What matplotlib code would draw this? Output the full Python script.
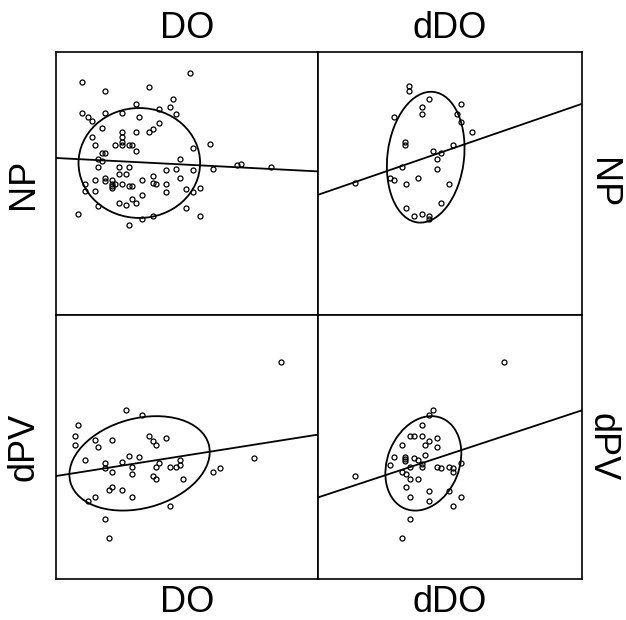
#!/usr/bin/env python3
"""Scatter-plot matrix NP / dPV against DO / dDO with fit lines and ellipses."""

import numpy as np
import matplotlib
matplotlib.use("Agg")
import matplotlib.pyplot as plt
from matplotlib.patches import Ellipse

plt.rcParams['font.family'] = ['Liberation Sans', 'DejaVu Sans']

# ---- data (arbitrary 0-100 units) ----
do_np_x = [51.0, 9.8, 18.8, 35.6, 44.5, 30.4, 39.4, 43.4, 45.9, 9.8, 12.3, 13.6, 18.8,
           25.3, 31.7, 17.6, 35.6, 36.9, 39.4, 30.4, 25.3, 25.3, 25.3, 25.3, 22.6, 27.9,
           29.1, 13.6, 14.9, 17.6, 18.8, 30.4, 52.3, 58.8, 16.2, 17.4, 16.2, 23.9, 27.9,
           23.9, 26.6, 47.2, 45.9, 42.0, 52.3, 60.1, 69.2, 70.5, 82.1, 11.1, 11.1, 14.9,
           14.9, 18.8, 18.8, 21.4, 21.4, 21.4, 21.4, 22.6, 25.3, 27.9, 29.1, 33.0, 36.9,
           36.9, 38.2, 42.0, 42.0, 47.2, 49.7, 52.3, 55.0, 33.0, 29.1, 30.4, 23.9, 26.6,
           16.2, 8.5, 49.7, 55.0, 36.9, 33.0, 27.9]
do_np_y = [92.2, 88.7, 85.1, 86.8, 82.0, 80.2, 78.4, 79.1, 76.5, 76.7, 75.4, 73.7, 76.7,
           76.7, 75.4, 71.2, 69.4, 70.7, 73.0, 69.4, 69.4, 67.7, 65.9, 64.6, 64.6, 64.6,
           64.6, 67.7, 64.6, 61.6, 61.6, 62.2, 63.5, 65.2, 59.3, 58.7, 56.3, 56.3, 56.3,
           53.8, 53.8, 59.2, 55.6, 55.0, 55.0, 55.6, 56.9, 57.5, 56.3, 49.7, 47.3, 51.4,
           47.3, 52.1, 50.8, 51.4, 49.7, 49.0, 48.4, 49.7, 49.7, 49.0, 49.0, 51.4, 52.7,
           50.3, 49.7, 49.7, 46.6, 52.1, 47.9, 46.6, 48.4, 45.5, 44.2, 42.4, 42.4, 41.9,
           41.3, 38.3, 40.7, 37.6, 37.6, 36.5, 34.1]

ddo_np_x = [34.6, 34.6, 42.2, 54.0, 28.7, 39.3, 39.3, 52.6, 54.2, 58.5, 33.1, 33.1, 51.1,
            43.7, 46.7, 45.2, 45.2, 31.8, 13.9, 27.3, 28.8, 37.8, 33.2, 49.8, 46.7, 33.2,
            36.2, 39.3, 42.2, 42.2]
ddo_np_y = [86.9, 85.3, 82.0, 80.2, 75.4, 78.9, 76.5, 76.5, 73.4, 69.4, 65.9, 64.6, 64.6,
            62.2, 61.6, 59.2, 55.6, 56.1, 50.3, 52.1, 51.4, 52.1, 49.7, 49.7, 42.4, 40.7,
            37.6, 38.3, 37.6, 36.5]

do_dpv_x = [85.9, 26.6, 33.0, 8.5, 7.3, 7.3, 14.9, 16.2, 21.4, 35.6, 36.9, 38.2, 42.0,
            11.1, 27.9, 31.7, 25.3, 18.8, 18.8, 21.4, 29.1, 29.1, 38.2, 39.4, 43.4, 45.9,
            47.2, 47.2, 36.9, 38.2, 48.5, 60.1, 62.7, 75.6, 21.4, 20.1, 25.3, 29.1, 14.9,
            12.3, 43.4, 18.8, 20.1]
do_dpv_y = [82.2, 64.2, 62.2, 58.4, 54.0, 50.7, 52.7, 50.1, 52.7, 54.0, 52.1, 50.7, 53.4,
            45.0, 46.7, 46.3, 44.4, 43.8, 41.9, 40.5, 42.4, 39.9, 42.5, 43.8, 42.5, 42.5,
            45.0, 43.2, 39.2, 38.0, 38.0, 40.5, 41.9, 45.7, 34.8, 33.6, 33.6, 30.9, 30.9,
            29.6, 27.7, 22.6, 15.5]

ddo_dpv_x = [70.6, 43.6, 42.2, 39.3, 35.0, 36.2, 39.3, 45.2, 42.2, 40.7, 45.2, 31.8, 28.8,
             33.1, 33.1, 33.1, 40.7, 36.2, 37.8, 39.3, 39.3, 34.7, 27.3, 45.2, 46.7, 49.8,
             51.1, 51.1, 54.2, 31.8, 33.2, 34.7, 37.8, 13.9, 33.2, 42.2, 49.8, 34.7, 42.2,
             54.2, 51.1, 34.7, 31.8]
ddo_dpv_y = [82.2, 64.2, 62.2, 58.4, 54.0, 54.0, 54.0, 53.4, 52.1, 50.7, 50.1, 50.7, 46.3,
             46.3, 45.4, 44.7, 46.9, 45.7, 45.0, 43.5, 42.5, 42.5, 43.2, 42.5, 41.9, 42.5,
             41.9, 40.5, 43.8, 40.5, 39.9, 38.0, 38.0, 39.2, 34.8, 33.4, 33.4, 30.9, 29.6,
             30.9, 27.7, 22.6, 15.5]

# fit lines: (intercept, slope)
fit_lines = [(59.7, -0.051), (45.7, 0.346), (39.0, 0.157), (30.9, 0.33)]
# ellipses: (cx, cy, width, height, angle)
ellipses = [(31.8, 57.8, 46.4, 41.8, 0),
            (40.8, 60.0, 50.0, 29.0, 83),
            (31.9, 43.8, 54.7, 34.0, 15),
            (39.9, 43.8, 37.0, 27.2, 68)]

col_labels = ['DO', 'dDO']
row_labels = ['NP', 'dPV']

panels = [(do_np_x, do_np_y), (ddo_np_x, ddo_np_y),
          (do_dpv_x, do_dpv_y), (ddo_dpv_x, ddo_dpv_y)]

W, H = 626, 620
fig = plt.figure(figsize=(W / 100, H / 100), dpi=100)

col_px = [(56, 318), (318, 582)]
row_px = [(52, 315), (315, 579)]

for i, (xs, ys) in enumerate(panels):
    r, c = divmod(i, 2)
    x0, x1 = col_px[c]
    y0, y1 = row_px[r]
    ax = fig.add_axes([x0 / W, 1 - y1 / H, (x1 - x0) / W, (y1 - y0) / H])
    ax.set_xlim(0, 100)
    ax.set_ylim(0, 100)
    ax.set_xticks([])
    ax.set_yticks([])
    for spine in ax.spines.values():
        spine.set_linewidth(1.2)

    ax.plot(xs, ys, 'o', mfc='none', mec='black', ms=3.6, mew=0.9)

    b0, b1 = fit_lines[i]
    lx = np.array([0, 100])
    ax.plot(lx, b0 + b1 * lx, color='black', lw=1.3, clip_on=True)

    cx, cy, w, h, ang = ellipses[i]
    ax.add_patch(Ellipse((cx, cy), w, h, angle=ang, fill=False,
                         edgecolor='black', lw=1.3))

fs = 26
for c, lab in enumerate(col_labels):
    xc = (col_px[c][0] + col_px[c][1]) / 2 / W
    fig.text(xc, 1 - 28 / H, lab, ha='center', va='center', fontsize=fs)
    fig.text(xc, 1 - 603 / H, lab, ha='center', va='center', fontsize=fs)
for r, lab in enumerate(row_labels):
    yc = 1 - (row_px[r][0] + row_px[r][1]) / 2 / H
    fig.text(24 / W, yc, lab, ha='center', va='center', rotation=90, fontsize=fs)
    fig.text(602 / W, yc, lab, ha='center', va='center', rotation=270, fontsize=fs)

fig.savefig('out.png', dpi=100)
